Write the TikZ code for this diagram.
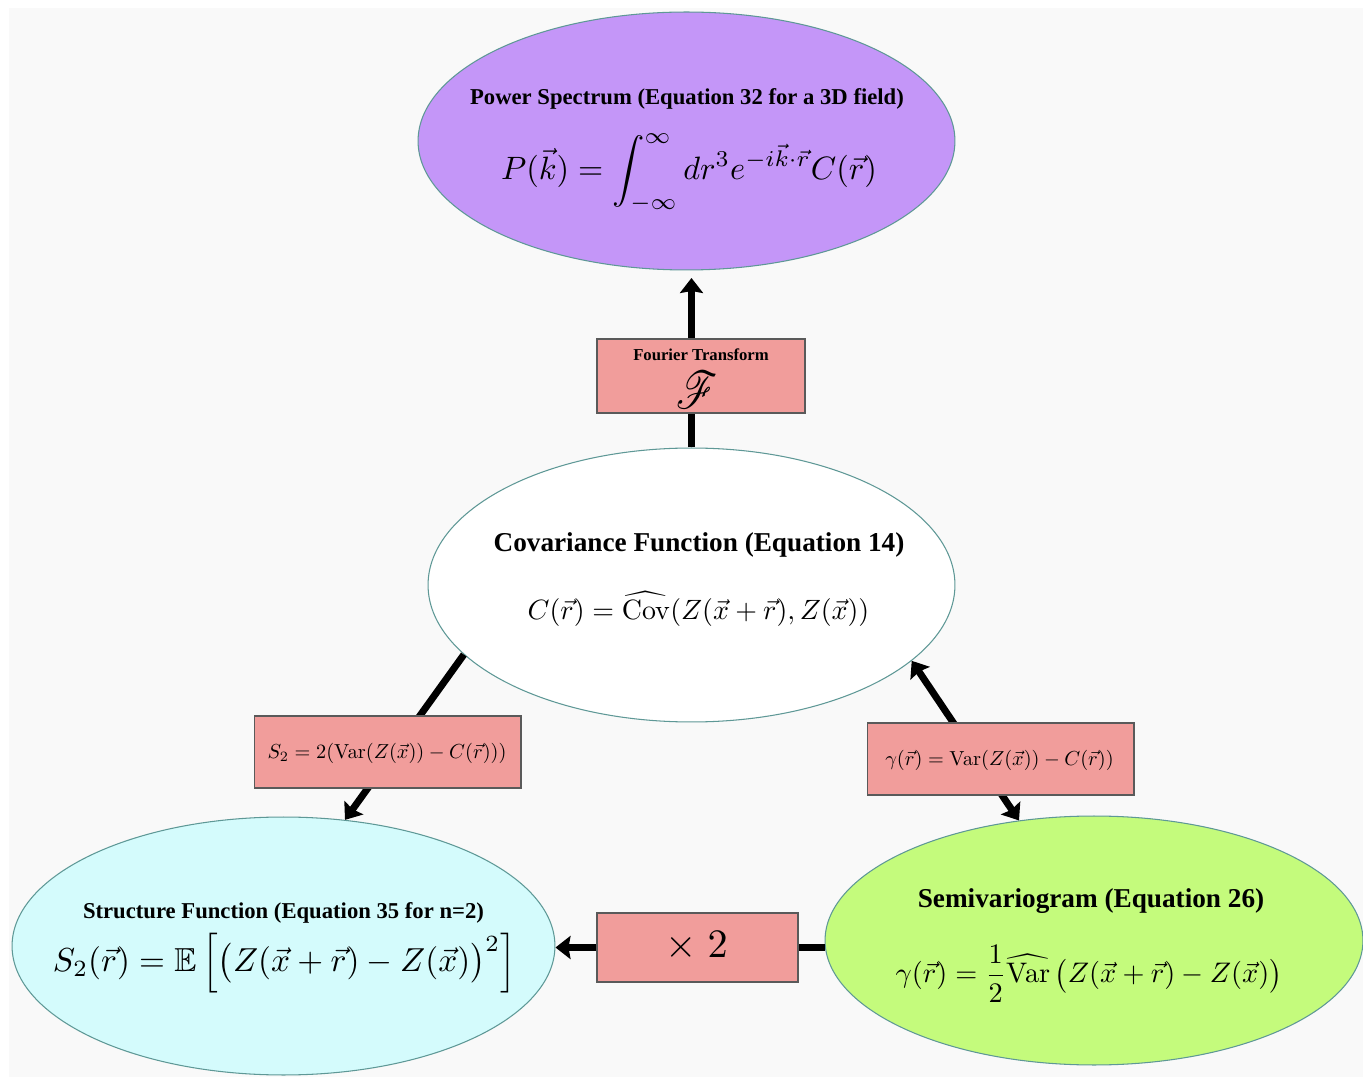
\documentclass[tikz,border=0pt]{standalone}
\usepackage[no-math]{fontspec}
\setmainfont{Liberation Serif}
\usepackage{amsmath,amssymb,mathrsfs,graphicx}
\usetikzlibrary{shapes.geometric,arrows.meta}
\definecolor{bgc}{HTML}{F9F9F9}
\definecolor{purp}{HTML}{C496F8}
\definecolor{cyanf}{HTML}{D4FBFC}
\definecolor{greenf}{HTML}{C4FB7C}
\definecolor{pinkf}{HTML}{F19D9B}
\definecolor{edgec}{HTML}{5E9896}
\definecolor{boxedge}{HTML}{5A5A5A}
\tikzset{
  ell/.style={ellipse, draw=edgec, line width=0.6pt, inner sep=0pt},
  opbox/.style={rectangle, draw=boxedge, line width=0.6pt, fill=pinkf, inner sep=0pt},
  txt/.style={inner sep=0pt, anchor=center},
  arr/.style={line width=0.14cm, -{Stealth[length=0.3cm, width=0.46cm, inset=0.04cm]}},
  darr/.style={line width=0.14cm, {Stealth[length=0.3cm, width=0.46cm, inset=0.04cm]}-{Stealth[length=0.3cm, width=0.46cm, inset=0.04cm]}},
}
\newcommand{\ttl}[1]{\fontsize{#1}{#1}\selectfont\bfseries}
\begin{document}
\begin{tikzpicture}[x=0.02cm, y=-0.02cm]
\useasboundingbox (0,0) rectangle (1363,1077);
\fill[bgc] (9,8) rectangle (1363,1077);
% ellipses
\node[ell, fill=purp, minimum width=10.74cm, minimum height=5.16cm] (power) at (686.5,141) {};
\node[ell, fill=white, minimum width=10.54cm, minimum height=5.48cm] (cov) at (691.5,585) {};
\node[ell, fill=cyanf, minimum width=10.86cm, minimum height=5.16cm] (struct) at (283.5,946) {};
\node[ell, fill=greenf, minimum width=10.76cm, minimum height=4.98cm] (semi) at (1094,940.5) {};
% operator boxes (positions)
\coordinate (fpos) at (701,376);
\coordinate (spos) at (387.5,752);
\coordinate (gpos) at (1000.5,759);
\coordinate (xpos) at (697.5,947.5);
% connectors
\draw[arr, shorten >=0.15cm] (cov.north) -- (cov.north |- power.south);
\draw[arr] (cov.197) -- (struct.64);
\draw[darr] (cov.341) -- (semi.122);
\draw[arr] (semi.west |- xpos) -- (struct.east |- xpos);
% boxes
\node[opbox, minimum width=4.16cm, minimum height=1.48cm] (fbox) at (fpos) {};
\node[opbox, minimum width=5.34cm, minimum height=1.44cm] (sbox) at (spos) {};
\node[opbox, minimum width=5.34cm, minimum height=1.44cm] (gbox) at (gpos) {};
\node[opbox, minimum width=4.02cm, minimum height=1.38cm] (xbox) at (xpos) {};
% texts
\node[txt] (powert) at (687,99) {\ttl{12.9pt}Power Spectrum (Equation 32 for a 3D field)};
\node[txt] (powere) at (689,173) {\resizebox{214pt}{!}{$\displaystyle P(\vec{k}) = \int_{-\infty}^{\infty} dr^3 e^{-i\vec{k}\cdot\vec{r}} C(\vec{r})$}};
\node[txt] (fourt) at (701,355) {\ttl{9.5pt}Fourier Transform};
\node[txt] (foure) at (697,390) {\resizebox{23.5pt}{21pt}{$\mathscr{F}$}};
\node[txt] (covt) at (699,545) {\ttl{15.5pt}Covariance Function (Equation 14)};
\node[txt] (cove) at (698.5,609) {\resizebox{194.5pt}{!}{$C(\vec{r}) = \widehat{\mathrm{Cov}}(Z(\vec{x}+\vec{r}), Z(\vec{x}))$}};
\node[txt] (se) at (387,753) {\resizebox{136pt}{!}{$S_2 = 2(\mathrm{Var}(Z(\vec{x})) - C(\vec{r})))$}};
\node[txt] (ge) at (999.5,760) {\resizebox{130pt}{!}{$\gamma(\vec{r}) = \mathrm{Var}(Z(\vec{x})) - C(\vec{r}))$}};
\node[txt] (structt) at (283.5,913) {\ttl{12.9pt}Structure Function (Equation 35 for n=2)};
\node[txt] (structe) at (284.5,963) {\resizebox{263.6pt}{!}{$\displaystyle S_2(\vec{r}) = \mathbb{E}\left[\bigl(Z(\vec{x}+\vec{r}) - Z(\vec{x})\bigr)^2\right]$}};
\node[txt] (semit) at (1091,901) {\ttl{15.5pt}Semivariogram (Equation 26)};
\node[txt] (semie) at (1089,974) {\resizebox{220pt}{!}{$\displaystyle \gamma(\vec{r}) = \frac{1}{2}\widehat{\mathrm{Var}}\,\bigl(Z(\vec{x}+\vec{r}) - Z(\vec{x})\bigr)$}};
\node[txt] (xe) at (696.5,946) {\resizebox{35.7pt}{!}{$\times\;2$}};
\end{tikzpicture}
\end{document}
